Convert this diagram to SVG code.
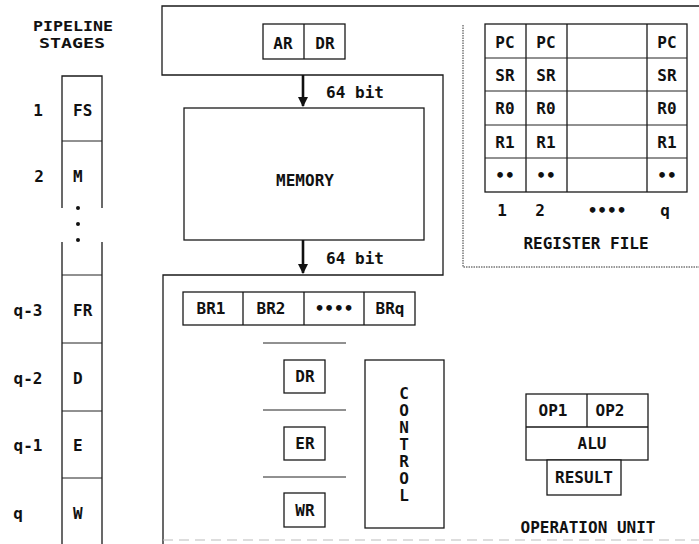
<svg xmlns="http://www.w3.org/2000/svg" width="699" height="544" viewBox="0 0 699 544">
<defs>
<style>
.t{font-family:"DejaVu Sans Mono","Liberation Mono",monospace;font-weight:bold;font-size:16px;fill:#111}
.m{text-anchor:middle}
.ln{fill:none;stroke:#1a1a1a;stroke-width:1.3}
.bx{fill:#fff;stroke:#1a1a1a;stroke-width:1.3}
.thin{fill:none;stroke:#222;stroke-width:1}
.dot{fill:none;stroke:#333;stroke-width:1;stroke-dasharray:1.5 1}
.arr{stroke:#111;stroke-width:2.6;fill:none}
</style>
<marker id="ah" viewBox="0 0 10 10" refX="9" refY="5" markerWidth="4" markerHeight="4" orient="auto" markerUnits="strokeWidth">
<path d="M0,0 L10,5 L0,10 z" fill="#111"/>
</marker>
</defs>
<rect width="699" height="544" fill="#fff"/>

<g id="pipeline">
<text class="t" x="33" y="31" style="font-size:14.5px" textLength="80" lengthAdjust="spacingAndGlyphs">PIPELINE</text>
<text class="t" x="39" y="48" style="font-size:14.5px" textLength="66" lengthAdjust="spacingAndGlyphs">STAGES</text>
<path class="ln" d="M62,208 V76 H102 V208 M62,242 V544 M102,242 V544"/>
<path class="thin" d="M62,141 H102 M62,275 H102 M62,343 H102 M62,411 H102 M62,478 H102"/>
<circle cx="78" cy="208" r="2" fill="#111"/>
<circle cx="78" cy="224" r="2" fill="#111"/>
<circle cx="78" cy="240" r="2" fill="#111"/>
<text class="t m" x="38" y="116">1</text>
<text class="t" x="73" y="116">FS</text>
<text class="t m" x="39" y="182">2</text>
<text class="t" x="73" y="182">M</text>
<text class="t m" x="28" y="316">q-3</text>
<text class="t" x="73" y="316">FR</text>
<text class="t m" x="28" y="384">q-2</text>
<text class="t" x="73" y="384">D</text>
<text class="t m" x="28" y="451">q-1</text>
<text class="t" x="73" y="451">E</text>
<text class="t m" x="18" y="519">q</text>
<text class="t" x="73" y="519">W</text>
</g>

<g id="frame">
<path class="ln" d="M699,6 H162 V75 H443 V275 H163 V544"/>
<path d="M163,540 H699" stroke="#bbb" stroke-width="1" stroke-dasharray="10 6" fill="none"/>
</g>

<g id="ar-dr">
<rect class="bx" x="263" y="24" width="82" height="35"/>
<path class="ln" d="M304,24 V59"/>
<text class="t m" x="283" y="49">AR</text>
<text class="t m" x="325" y="49">DR</text>
</g>

<g id="memory">
<rect class="bx" x="184" y="108" width="240" height="132"/>
<text class="t m" x="305" y="186">MEMORY</text>
</g>

<g id="register-file">
<path class="dot" d="M463,25 V267 H699"/>
<rect class="bx" x="485" y="24" width="202" height="168"/>
<path class="ln" d="M526,24 V192 M567,24 V192 M647,24 V192"/>
<path class="thin" d="M485,58 H687 M485,91 H687 M485,125 H687 M485,158 H687"/>
<text class="t m" x="505" y="48">PC</text>
<text class="t m" x="546" y="48">PC</text>
<text class="t m" x="667" y="48">PC</text>
<text class="t m" x="505" y="81">SR</text>
<text class="t m" x="546" y="81">SR</text>
<text class="t m" x="667" y="81">SR</text>
<text class="t m" x="505" y="114">R0</text>
<text class="t m" x="546" y="114">R0</text>
<text class="t m" x="667" y="114">R0</text>
<text class="t m" x="505" y="148">R1</text>
<text class="t m" x="546" y="148">R1</text>
<text class="t m" x="667" y="148">R1</text>
<text class="t m" x="505" y="181">••</text>
<text class="t m" x="546" y="181">••</text>
<text class="t m" x="667" y="181">••</text>
<text class="t m" x="502" y="216">1</text>
<text class="t m" x="540" y="216">2</text>
<text class="t m" x="607" y="216">••••</text>
<text class="t m" x="665" y="216">q</text>
<text class="t m" x="586" y="249">REGISTER FILE</text>
</g>

<g id="buffer-registers">
<rect class="bx" x="183" y="292" width="232" height="33"/>
<path class="ln" d="M243,292 V325 M304,292 V325 M364,292 V325"/>
<text class="t m" x="211" y="314">BR1</text>
<text class="t m" x="271" y="314">BR2</text>
<text class="t m" x="334" y="314">••••</text>
<text class="t m" x="390" y="314">BRq</text>
</g>

<g id="stage-registers">
<path class="thin" d="M263,343 H346 M263,410 H346 M263,477 H346"/>
<rect class="bx" x="284" y="360" width="41" height="33"/>
<text class="t m" x="305" y="382">DR</text>
<rect class="bx" x="284" y="427" width="41" height="33"/>
<text class="t m" x="305" y="449">ER</text>
<rect class="bx" x="284" y="493" width="41" height="34"/>
<text class="t m" x="305" y="516">WR</text>
</g>

<g id="control">
<rect class="bx" x="365" y="360" width="79" height="168"/>
<text class="t" x="404" y="384" style="writing-mode:vertical-rl;text-orientation:upright;letter-spacing:-2px">CONTROL</text>
</g>

<g id="operation-unit">
<rect class="bx" x="526" y="394" width="122" height="66"/>
<path class="ln" d="M587,394 V427 M526,427 H648"/>
<rect class="bx" x="547" y="460" width="74" height="35"/>
<text class="t m" x="553" y="416">OP1</text>
<text class="t m" x="610" y="416">OP2</text>
<text class="t m" x="592" y="449">ALU</text>
<text class="t m" x="584" y="483">RESULT</text>
<text class="t m" x="588" y="533">OPERATION UNIT</text>
</g>

<g id="connectors">
<path class="arr" d="M303,75 V106" marker-end="url(#ah)"/>
<path class="arr" d="M303,240 V273" marker-end="url(#ah)"/>
<text class="t m" x="355" y="98">64 bit</text>
<text class="t m" x="355" y="264">64 bit</text>
</g>
</svg>
